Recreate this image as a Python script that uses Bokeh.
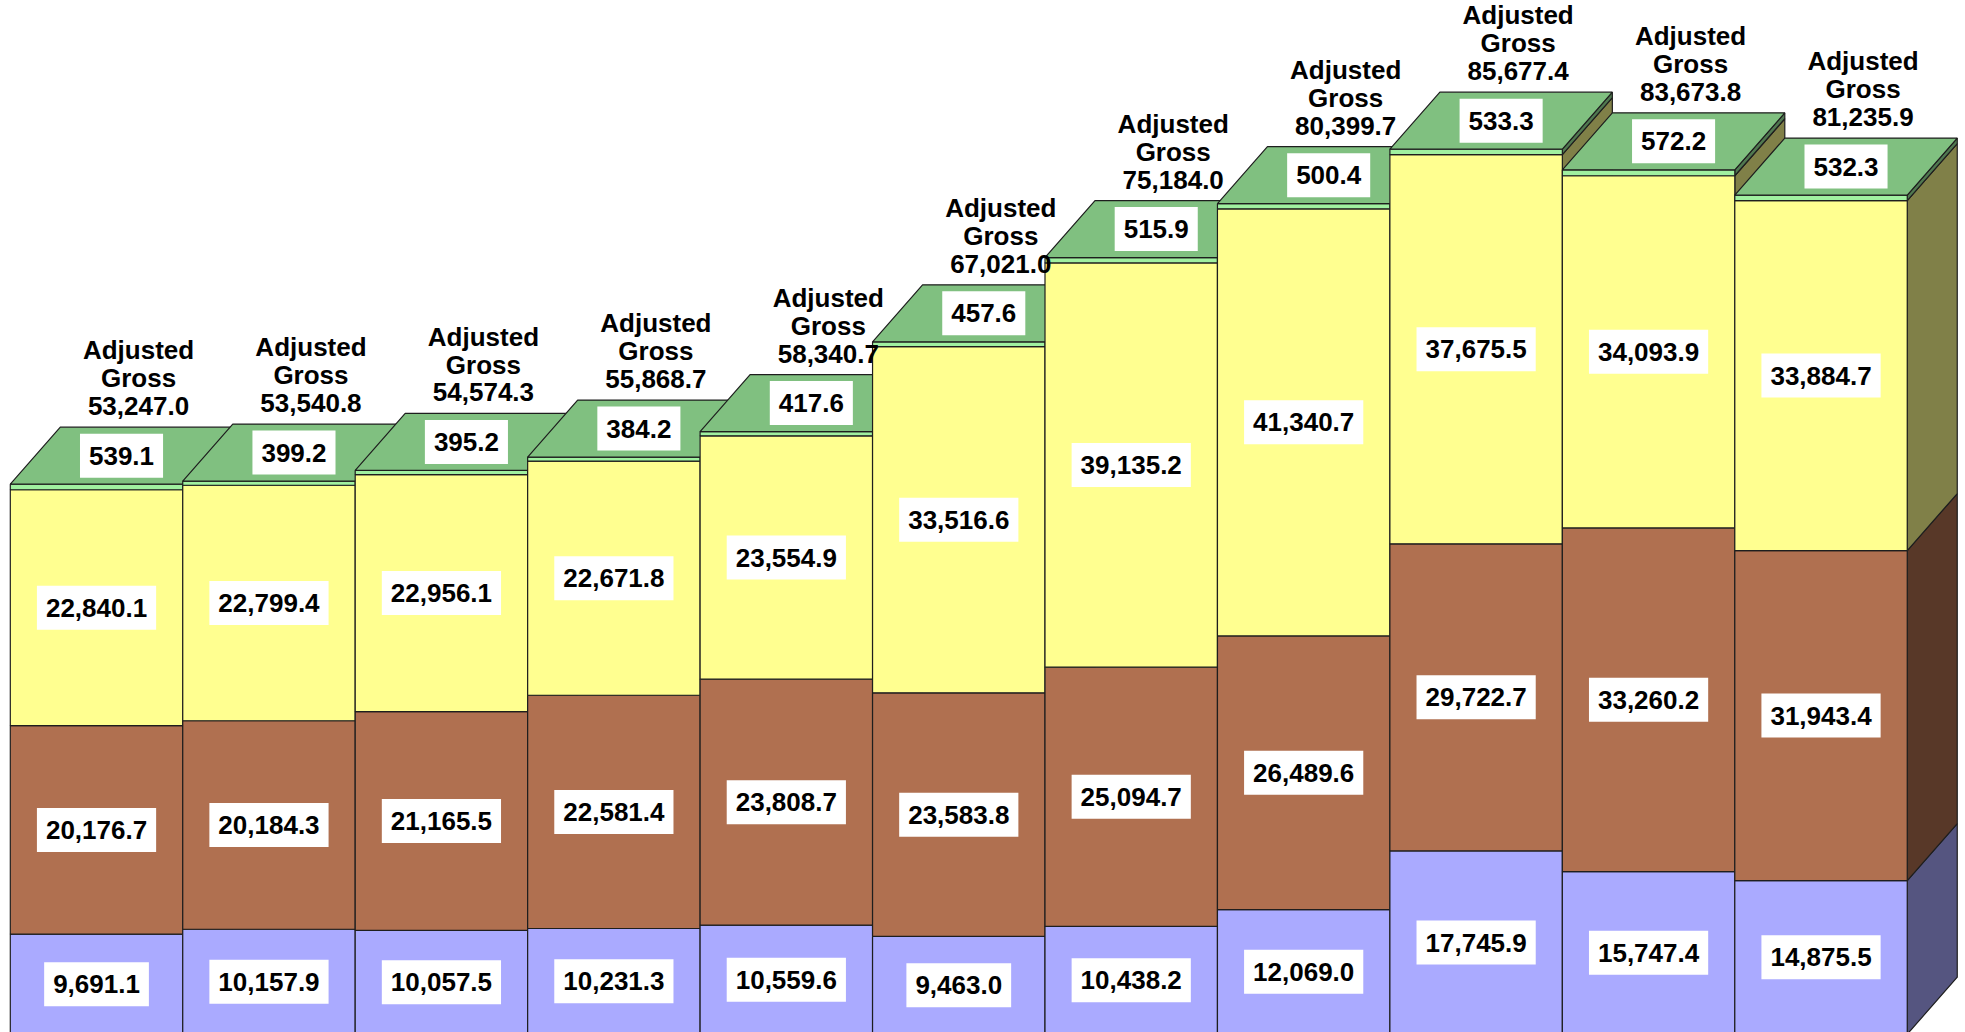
from bokeh.plotting import figure
from bokeh.models import ColumnDataSource, Range1d
from bokeh.embed import file_html
from bokeh.resources import INLINE
from bokeh.core.properties import value

# ---- data ----
blue_vals = [9691.1, 10157.9, 10057.5, 10231.3, 10559.6, 9463.0, 10438.2, 12069.0, 17745.9, 15747.4, 14875.5]
brown_vals = [20176.7, 20184.3, 21165.5, 22581.4, 23808.7, 23583.8, 25094.7, 26489.6, 29722.7, 33260.2, 31943.4]
yellow_vals = [22840.1, 22799.4, 22956.1, 22671.8, 23554.9, 33516.6, 39135.2, 41340.7, 37675.5, 34093.9, 33884.7]
green_vals = [539.1, 399.2, 395.2, 384.2, 417.6, 457.6, 515.9, 500.4, 533.3, 572.2, 532.3]
adjusted_gross = [53247.0, 53540.8, 54574.3, 55868.7, 58340.7, 67021.0, 75184.0, 80399.7, 85677.4, 83673.8, 81235.9]
total_label = "Adjusted\nGross"

# ---- style ----
series = [
    (blue_vals, "#aaaaff", "#555580"),
    (brown_vals, "#b07050", "#583828"),
    (yellow_vals, "#ffff90", "#808048"),
    (green_vals, "#a0f0a0", "#507850"),
]
top_color = "#80c080"
edge_color = "#1e1e1e"
FONT = value("Liberation Sans")

W, H = 1965, 1032
px_per_bar = 172.45
px_per_unit = 0.01033
x0 = -9.8 / px_per_bar
y0 = (1033.7 - H) / px_per_unit
depth_x = 50 / px_per_bar
depth_y = 57 / px_per_unit
gap_y = 6 / px_per_unit

n = len(blue_vals)

xs, ys, fills = [], [], []
lab_x, lab_y, lab_t = [], [], []
top_x, top_y, top_t = [], [], []
tot_x, tot_y, tot_t = [], [], []

for i in range(n):
    base = 0.0
    for vals, front, side in series:
        b, t = base, base + vals[i]
        # side face
        xs.append([i + 1, i + 1 + depth_x, i + 1 + depth_x, i + 1])
        ys.append([b, b + depth_y, t + depth_y, t])
        fills.append(side)
        # front face
        xs.append([i, i + 1, i + 1, i])
        ys.append([b, b, t, t])
        fills.append(front)
        if vals is not green_vals:
            lab_x.append(i + 0.5)
            lab_y.append((b + t) / 2)
            lab_t.append(f"{vals[i]:,.1f}")
        base = t
    T = base
    xs.append([i, i + 1, i + 1 + depth_x, i + depth_x])
    ys.append([T, T, T + depth_y, T + depth_y])
    fills.append(top_color)
    top_x.append(i + 0.5 + depth_x / 2)
    top_y.append(T + depth_y / 2)
    top_t.append(f"{green_vals[i]:,.1f}")
    tot_x.append(i + 0.5 + depth_x * 0.84)
    tot_y.append(T + depth_y + gap_y)
    tot_t.append(f"{total_label}\n{adjusted_gross[i]:,.1f}")

p = figure(width=W, height=H, output_backend="svg", toolbar_location=None,
           x_range=Range1d(x0, x0 + W / px_per_bar),
           y_range=Range1d(y0, y0 + H / px_per_unit),
           x_axis_location=None, y_axis_location=None,
           min_border=0, min_border_left=0, min_border_right=0,
           min_border_top=0, min_border_bottom=0)
p.grid.visible = False
p.outline_line_color = None
p.background_fill_color = "white"
p.border_fill_color = "white"

p.patches(xs="xs", ys="ys", fill_color="fill", line_color=edge_color, line_width=1.2,
          source=ColumnDataSource(dict(xs=xs, ys=ys, fill=fills)))

box = dict(text_font=FONT, text_font_style="bold", text_font_size="26px",
           text_align="center", text_baseline="middle", text_color="black",
           background_fill_color="white",
           padding=dict(left=9, right=9, top=13, bottom=13))
p.text(x="x", y="y", text="t", source=ColumnDataSource(dict(x=lab_x, y=lab_y, t=lab_t)), **box)
p.text(x="x", y="y", text="t", source=ColumnDataSource(dict(x=top_x, y=top_y, t=top_t)), **box)

p.text(x="x", y="y", text="t", source=ColumnDataSource(dict(x=tot_x, y=tot_y, t=tot_t)),
       text_font=FONT, text_font_style="bold", text_font_size="26px",
       text_align="center", text_baseline="bottom", text_color="black",
       text_line_height=0.93)

open("out.html", "w").write(file_html(p, INLINE))
